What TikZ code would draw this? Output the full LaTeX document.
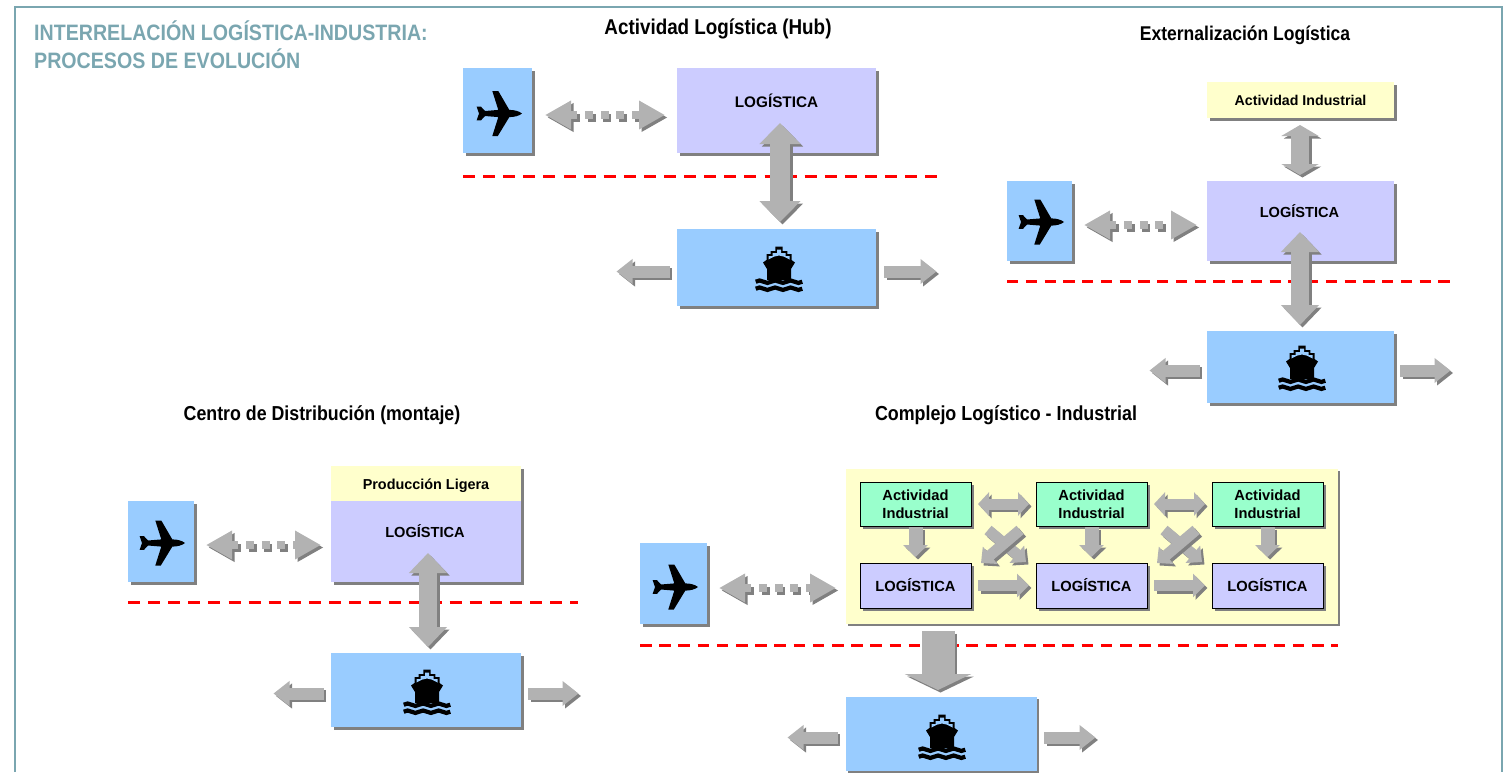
\documentclass[tikz,border=0pt]{standalone}
\usepackage{fontspec}
\setmainfont{Liberation Sans}
\newfontfamily\narrowfont[FakeStretch=0.88]{Liberation Sans}
\usetikzlibrary{arrows.meta,shadows}
\definecolor{framecolor}{HTML}{7AA6B0}
\definecolor{airblue}{HTML}{99CCFF}
\definecolor{logcolor}{HTML}{CCCCFF}
\definecolor{indcolor}{HTML}{FFFFCC}
\definecolor{greencolor}{HTML}{99FFCC}
\definecolor{arrowgray}{HTML}{B2B2B2}
\definecolor{shadowgray}{HTML}{808080}
% flecha con su sombra
\newcommand{\flecha}[2]{
	\draw[#1, shadowgray, transform canvas={shift={(2.5pt,-2.5pt)}}] #2;
	\draw[#1, arrowgray] #2;
}
\tikzset{
	sombra/.style={drop shadow={shadow xshift=#1, shadow yshift=-#1, fill=shadowgray, opacity=1}},
	sombra/.default=3pt,
	box/.style={inner sep=0pt, outer sep=0pt, align=center},
	smallbox/.style={box, sombra, draw=black, line width=0.8pt, minimum width=111pt, font=\bfseries\fontsize{14.7}{18}\selectfont},
	paneltitle/.style={font=\narrowfont\bfseries\fontsize{#1}{25}\selectfont},
	boxtext/.style={inner sep=0pt, font=\bfseries\fontsize{#1}{18}\selectfont},
	limit/.style={red, line width=3pt, dash pattern=on 12pt off 8.1pt},
	% ancho del cuerpo, ancho y largo de la punta
	flechauna/.style n args={3}{line width=#1, -{Triangle[width=#2, length=#3]}},
	flechados/.style n args={3}{line width=#1, {Triangle[width=#2, length=#3]}-{Triangle[width=#2, length=#3]}},
	flechadots/.style={flechados={8pt}{27pt}{26pt}, dash pattern=on 8pt off 7.7pt},
	plane/.pic={
		\fill[black] (23,0) .. controls (20,-2.5) and (15,-3.6) .. (10.3,-3.6) -- (-0.7,-22.5) -- (-6.7,-22.5) -- (-0.7,-3.6)
			-- (-14,-2.5) -- (-18,-6.8) -- (-22.3,-6.8) -- (-20,0) -- (-22.3,6.8) -- (-18,6.8) -- (-14,2.5)
			-- (-0.7,3.6) -- (-6.7,22.5) -- (-1.2,22.5) -- (10.3,3.6) .. controls (15,3.6) and (20,2.5) .. (23,0) -- cycle;
	},
	ship/.pic={
		\fill[black] (-3.7,-22.3) -- (3.7,-22.3) -- (3.7,-18) -- (8.3,-18) -- (8.3,-15) -- (12.5,-15) -- (12.5,-9) -- (16,-6.5) -- (12,0) -- (12,11)
			-- (-12,11) -- (-12,0) -- (-16,-6.5) -- (-12.5,-9) -- (-12.5,-15) -- (-8.3,-15) -- (-8.3,-18) -- (-3.7,-18) -- cycle;
		\fill[airblue] (-2,-19.5) -- (2,-19.5) -- (2,-16) -- (6.5,-16) -- (6.5,-13) -- (10.5,-13) -- (10.5,-9.5) .. controls (6,-12) and (3,-13.5) .. (0,-13.5)
			.. controls (-3,-13.5) and (-6,-12) .. (-10.5,-9.5) -- (-10.5,-13) -- (-6.5,-13) -- (-6.5,-16) -- (-2,-16) -- cycle;
		\foreach \wavey in {12.7,19.7}
			\draw[black, line width=4.2pt] (-23.3,\wavey) sin (-19.4,\wavey-1.2) cos (-15.5,\wavey) sin (-11.6,\wavey+1.2) cos (-7.8,\wavey)
				sin (-3.9,\wavey-1.2) cos (0,\wavey) sin (3.9,\wavey+1.2) cos (7.8,\wavey) sin (11.6,\wavey-1.2) cos (15.5,\wavey) sin (19.4,\wavey+1.2) cos (23.3,\wavey);
	},
}
\begin{document}
\begin{tikzpicture}[x=1pt, y=-1pt]
	\useasboundingbox (0,0) rectangle (1507,772);
	\draw[framecolor, line width=2pt] (14.5,772) -- (14.5,7) -- (1502,7) -- (1502,772);
	\node (titulo) at (34,21) [anchor=north west, align=left, inner sep=0pt, text=framecolor, font=\narrowfont\bfseries\fontsize{22.3}{28}\selectfont] {INTERRELACIÓN LOGÍSTICA-INDUSTRIA:\\PROCESOS DE EVOLUCIÓN};

	%--- actividad logistica
	\node[paneltitle=21.4] (title1) at (718,29) {Actividad Logística (Hub)};
	\node[box, sombra, fill=airblue, minimum width=69pt, minimum height=85pt] (air1) at (497.5,110.5) {};
	\node[box, sombra, fill=logcolor, minimum width=199pt, minimum height=85pt] (log1) at (776.5,110.5) {};
	\node[boxtext=15.3] (logtext1) at (776.5,101) {LOGÍSTICA};
	\node[box, sombra, fill=airblue, minimum width=199pt, minimum height=77pt] (sea1) at (776.5,267.5) {};
	\pic at (499,113.5) {plane};
	\pic at (779,269) {ship};
	\draw[limit] (463,176) -- (937,176);
	\flecha{flechadots, shorten <=13pt, shorten >=12pt}{(air1.east |- 0,115) -- (log1.west |- 0,115)}
	\flecha{flechados={20pt}{40pt}{21pt}, shorten <=-30pt, shorten >=7pt}{(log1.south -| 780,0) -- (sea1.north -| 780,0)}
	\coordinate (left1) at (616.5,271.5);
	\coordinate (right1) at (936.5,271.5);
	\flecha{flechauna={12pt}{24pt}{16pt}, shorten <=7.5pt}{(sea1.west |- left1) -- (left1)}
	\flecha{flechauna={12pt}{24pt}{16pt}, shorten <=8pt}{(sea1.east |- right1) -- (right1)}

	%--- externalizacion
	\node[paneltitle=19.9] (title2) at (1245,35) {Externalización Logística};
	\node[box, sombra, fill=indcolor, minimum width=187pt, minimum height=36pt, text height=11pt, text depth=0pt, font=\bfseries\fontsize{14.2}{16}\selectfont] (ind2) at (1300.5,100) {Actividad Industrial};
	\node[box, sombra, fill=airblue, minimum width=65pt, minimum height=80pt] (air2) at (1039.5,221) {};
	\node[box, sombra, fill=logcolor, minimum width=187pt, minimum height=80pt] (log2) at (1300.5,221) {};
	\node[boxtext=14.6] (logtext2) at (1299.5,211) {LOGÍSTICA};
	\node[box, sombra, fill=airblue, minimum width=187pt, minimum height=72pt] (sea2) at (1300.5,367) {};
	\pic at (1041,222) {plane};
	\pic at (1302,368) {ship};
	\draw[limit, dash pattern=on 11.25pt off 7.5pt] (1007,281) -- (1450,281);
	\flecha{flechadots, shorten <=12pt, shorten >=10pt}{(air2.east |- 0,225) -- (log2.west |- 0,225)}
	\flecha{flechados={18pt}{37pt}{11pt}, shorten <=7pt, shorten >=6pt}{(ind2.south -| 1300,0) -- (log2.north -| 1300,0)}
	\flecha{flechados={18pt}{37pt}{20pt}, shorten <=-29pt, shorten >=6pt}{(log2.south -| 1300,0) -- (sea2.north -| 1300,0)}
	\coordinate (left2) at (1149.5,370.5);
	\coordinate (right2) at (1450.5,370.5);
	\flecha{flechauna={12pt}{24pt}{16pt}, shorten <=7.5pt}{(sea2.west |- left2) -- (left2)}
	\flecha{flechauna={12pt}{24pt}{16pt}, shorten <=6pt}{(sea2.east |- right2) -- (right2)}

	%--- centro de distribucion
	\node[paneltitle=20.2] (title3) at (322,415) {Centro de Distribución (montaje)};
	\node[box, sombra, fill=airblue, minimum width=66pt, minimum height=81pt] (air3) at (161,541.5) {};
	\node[box, sombra, fill=logcolor, minimum width=190pt, minimum height=116pt] (log3) at (426,524) {};
	\node[box, fill=indcolor, minimum width=190pt, minimum height=35pt, text height=11pt, text depth=0pt, font=\bfseries\fontsize{14.4}{16}\selectfont] (ind3) at (426,483.5) {Producción Ligera};
	\node[boxtext=14.6] (logtext3) at (425,531) {LOGÍSTICA};
	\node[box, sombra, fill=airblue, minimum width=190pt, minimum height=74pt] (sea3) at (426,690) {};
	\pic at (162,543) {plane};
	\pic at (427,692) {ship};
	\draw[limit] (128,602) -- (578,602);
	\flecha{flechadots, shorten <=12pt, shorten >=10pt}{(air3.east |- 0,545) -- (log3.west |- 0,545)}
	\flecha{flechados={18pt}{37pt}{20pt}, shorten <=-29pt, shorten >=6pt}{(log3.south -| 428,0) -- (sea3.north -| 428,0)}
	\coordinate (left3) at (273.5,693.5);
	\coordinate (right3) at (578.5,693.5);
	\flecha{flechauna={12pt}{24pt}{16pt}, shorten <=7.5pt}{(sea3.west |- left3) -- (left3)}
	\flecha{flechauna={12pt}{24pt}{16pt}, shorten <=7pt}{(sea3.east |- right3) -- (right3)}

	%--- complejo logistico
	\node[paneltitle=20.3] (title4) at (1006,415) {Complejo Logístico - Industrial};
	\node[box, sombra=2pt, fill=indcolor, minimum width=492pt, minimum height=155pt] (panel4) at (1092,546.5) {};
	\node[box, sombra, fill=airblue, minimum width=67pt, minimum height=81pt] (air4) at (673.5,583.5) {};
	\node[box, sombra=2pt, fill=airblue, minimum width=191pt, minimum height=74pt] (sea4) at (941.5,734) {};
	\node[smallbox, fill=greencolor, minimum height=44pt] (ind41) at (915.5,504) {Actividad\\Industrial};
	\node[smallbox, fill=greencolor, minimum height=44pt] (ind42) at (1091.5,504) {Actividad\\Industrial};
	\node[smallbox, fill=greencolor, minimum height=44pt] (ind43) at (1267.5,504) {Actividad\\Industrial};
	\node[smallbox, fill=logcolor, minimum height=45pt] (log41) at (915.5,585.5) {LOGÍSTICA};
	\node[smallbox, fill=logcolor, minimum height=45pt] (log42) at (1091.5,585.5) {LOGÍSTICA};
	\node[smallbox, fill=logcolor, minimum height=45pt] (log43) at (1267.5,585.5) {LOGÍSTICA};
	\pic at (675,587) {plane};
	\pic at (942,737) {ship};
	\draw[limit, dash pattern=on 11.5pt off 7.7pt] (640,645) -- (1338,645);
	\flecha{flechadots, shorten <=12pt, shorten >=10pt}{(air4.east |- 0,588) -- (panel4.west |- 0,588)}
	\flecha{flechados={11pt}{23pt}{11pt}, shorten <=7pt, shorten >=7pt}{(ind41) -- (ind42)}
	\flecha{flechados={11pt}{23pt}{11pt}, shorten <=7pt, shorten >=7pt}{(ind42) -- (ind43)}
	\flecha{flechauna={11pt}{23pt}{12pt}, shorten <=7pt, shorten >=7pt}{(log41) -- (log42)}
	\flecha{flechauna={11pt}{23pt}{12pt}, shorten <=7pt, shorten >=7pt}{(log42) -- (log43)}
	\flecha{flechauna={14pt}{24pt}{12pt}, shorten <=1pt, shorten >=6pt}{(ind41) -- (log41)}
	\flecha{flechauna={14pt}{24pt}{12pt}, shorten <=1pt, shorten >=6pt}{(ind42) -- (log42)}
	\flecha{flechauna={14pt}{24pt}{12pt}, shorten <=1pt, shorten >=6pt}{(ind43) -- (log43)}
	%--- cruces
	\coordinate (cross1a) at (988,530);
	\coordinate (cross1b) at (1026,562);
	\coordinate (cross1c) at (1020,530);
	\coordinate (cross1d) at (981,563);
	\coordinate (cross2a) at (1164,530);
	\coordinate (cross2b) at (1202,562);
	\coordinate (cross2c) at (1196,530);
	\coordinate (cross2d) at (1157,563);
	\flecha{flechauna={11pt}{22pt}{12pt}}{(cross1a) -- (cross1b)}
	\flecha{flechauna={11pt}{22pt}{12pt}}{(cross1c) -- (cross1d)}
	\flecha{flechauna={11pt}{22pt}{12pt}}{(cross2a) -- (cross2b)}
	\flecha{flechauna={11pt}{22pt}{12pt}}{(cross2c) -- (cross2d)}
	\flecha{flechauna={33pt}{66pt}{16pt}, shorten <=7pt, shorten >=7pt}{(panel4.south -| 938,0) -- (sea4.north -| 938,0)}
	\coordinate (left4) at (787.5,737.5);
	\coordinate (right4) at (1095.5,737.5);
	\flecha{flechauna={12pt}{24pt}{16pt}, shorten <=8.5pt}{(sea4.west |- left4) -- (left4)}
	\flecha{flechauna={12pt}{24pt}{16pt}, shorten <=7pt}{(sea4.east |- right4) -- (right4)}
\end{tikzpicture}
\end{document}
